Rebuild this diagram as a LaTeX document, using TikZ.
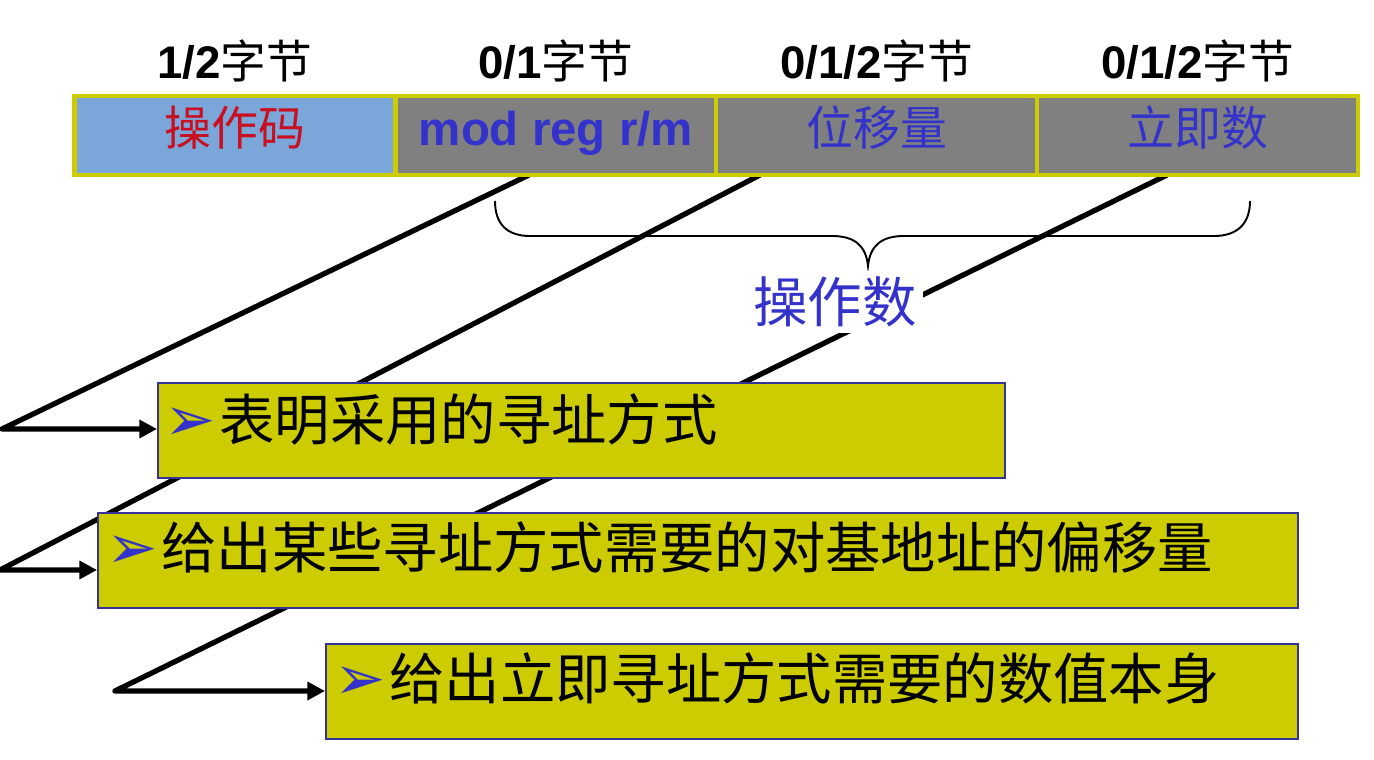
\documentclass[tikz,border=0pt]{standalone}
\usepackage{fontspec}
\setmainfont{Liberation Sans}
\newfontfamily\cjk{Noto Sans CJK SC}
\newfontfamily\sym{DejaVu Sans}
\usetikzlibrary{arrows.meta,backgrounds}
\definecolor{cellblue}{RGB}{122,166,218}
\definecolor{cellgray}{RGB}{128,128,128}
\definecolor{celledge}{RGB}{204,204,0}
\definecolor{boxfill}{RGB}{204,204,0}
\definecolor{boxedge}{RGB}{51,51,153}
\definecolor{txtred}{RGB}{200,16,32}
\definecolor{txtblue}{RGB}{51,51,204}
\newcommand\bull{\makebox[1.1cm][l]{\fontsize{35}{36}\sym\color{txtblue}➢}}
\begin{document}
\begin{tikzpicture}[x=0.02cm, y=-0.02cm,
    cell/.style = {draw=celledge, line width=2.3pt, fill=cellgray, minimum width=6.418cm, minimum height=1.58cm,
                   inner sep=0pt, outer sep=0pt, text height=20pt, text depth=8.8pt},
    bytes/.style = {font=\fontsize{26}{30}\selectfont, anchor=base, inner sep=0pt},
    item/.style = {draw=boxedge, line width=1.2pt, fill=boxfill, minimum height=1.9cm, inner sep=0pt},
    itemtext/.style = {font=\fontsize{31.5}{36}\selectfont\cjk, anchor=base west, inner sep=0pt},
    conn/.style = {line width=3pt, line join=round, -{Triangle[length=10pt,width=10pt]}}]

    \useasboundingbox (0,0) rectangle (1374,760);

    % fields
    \node[cell, fill=cellblue, text=txtred, font=\fontsize{26.7}{32}\selectfont\cjk] (opcode) at (234.9,135.5) {操作码};
    \node[cell, text=txtblue, font=\fontsize{27}{32}\selectfont\bfseries]           (modrm)  at (555.9,135.5) {mod reg r/m};
    \node[cell, text=txtblue, font=\fontsize{26.7}{32}\selectfont\cjk]              (disp)   at (876.8,135.5) {位移量};
    \node[cell, text=txtblue, font=\fontsize{26.7}{32}\selectfont\cjk]              (imm)    at (1197.6,135.5) {立即数};

    % sizes
    \node[bytes] (opcodelen) at ([yshift=0.36cm]opcode.north) {\textbf{1/2}{\cjk 字节}};
    \node[bytes] (modrmlen)  at ([yshift=0.36cm]modrm.north)  {\textbf{0/1}{\cjk 字节}};
    \node[bytes] (displen)   at ([yshift=0.36cm]disp.north)   {\textbf{0/1/2}{\cjk 字节}};
    \node[bytes] (immlen)    at ([yshift=0.36cm]imm.north)    {\textbf{0/1/2}{\cjk 字节}};

    % brace
    \draw[line width=1.1pt] (495,201) .. controls (495,224) and (507,236) .. (530,236) -- (832,236)
        .. controls (855,236) and (866,246) .. (868,266) .. controls (870,246) and (881,236) .. (904,236)
        -- (1214,236) .. controls (1237,236) and (1250,224) .. (1250,201);
    \node[fill=white, text=txtblue, font=\fontsize{31}{36}\selectfont\cjk, inner sep=3.4pt] (operand) at (835,302) {操作数};

    % notes
    \node[item, minimum width=16.94cm] (addrbox) at (581.5,430.5) {};
    \node[item, minimum width=24cm]    (dispbox) at (698,560.5) {};
    \node[item, minimum width=19.44cm] (immbox)  at (812,691.5) {};
    \node[itemtext] (addrtxt) at ([shift={(7,10)}]addrbox.west) {\bull 表明采用的寻址方式};
    \node[itemtext] (disptxt) at ([shift={(9,8)}]dispbox.west)  {\bull 给出某些寻址方式需要的对基地址的偏移量};
    \node[itemtext] (immtxt)  at ([shift={(9,8)}]immbox.west)   {\bull 给出立即寻址方式需要的数值本身};

    % connectors
    \coordinate (m1) at (529,175);
    \coordinate (k1) at (2,429);
    \coordinate (m2) at (760,175);
    \coordinate (k2) at (0,570);
    \coordinate (m3) at (1167,175);
    \coordinate (k3) at (115,691);
    \begin{scope}[on background layer]
        \draw[conn] (m1) -- (k1) -- (k1 -| addrbox.west);
        \draw[conn] (m2) -- (k2) -- (k2 -| dispbox.west);
        \draw[conn] (m3) -- (k3) -- (k3 -| immbox.west);
    \end{scope}

\end{tikzpicture}
\end{document}
